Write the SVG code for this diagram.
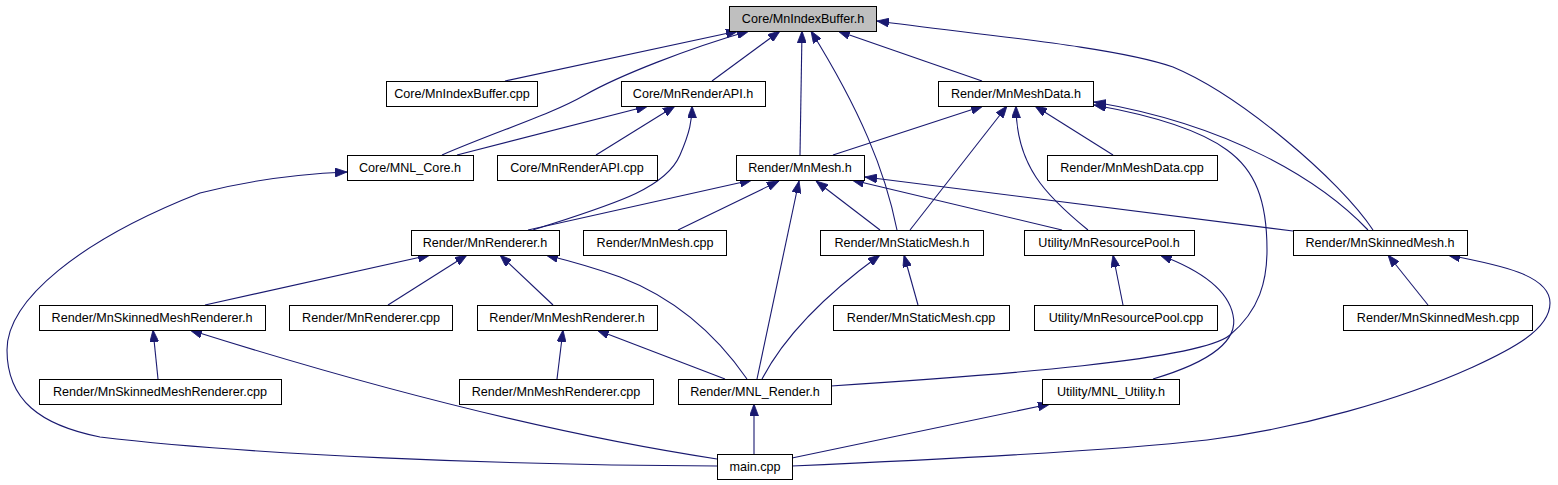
<svg xmlns="http://www.w3.org/2000/svg" width="1558" height="485" viewBox="0 0 1558 485">
<style>
.n rect{fill:#fff;stroke:#000;stroke-width:1}
.n.root rect{fill:#bfbfbf}
.n text{font-family:"Liberation Sans",Arial,sans-serif;font-size:12.6px;fill:#000;text-anchor:middle}
.e path{fill:none;stroke:#191970;stroke-width:1.1;marker-end:url(#ah)}
</style>
<defs>
<marker id="ah" markerWidth="12" markerHeight="9" refX="12" refY="4.5" orient="auto" markerUnits="userSpaceOnUse"><path d="M0,0 L12,4.5 L0,9 z" fill="#191970" stroke="#191970" stroke-width="0.8"/></marker>
</defs>
<rect width="1558" height="485" fill="#fff"/>
<g id="edges" class="e">
<path d="M505,81 L738,31"/>
<path d="M442,155 C500,130 550,115 585,95 C620,75 690,48 749,31"/>
<path d="M712,81 L780,31"/>
<path d="M800,155 L802,31"/>
<path d="M897,230 C885,170 860,110 811,31"/>
<path d="M982,81 L838,31"/>
<path d="M1373,230 C1340,180 1240,95 1173,67 C1113,46 970,34 877,21"/>
<path d="M457,155 L648,106"/>
<path d="M596,155 L675,106"/>
<path d="M533,230 C610,205 665,190 680,155 C690,132 692,120 692,106"/>
<path d="M833,155 L983,106"/>
<path d="M910,230 L1007,106"/>
<path d="M1088,230 C1045,195 1016,165 1016,106"/>
<path d="M1113,155 L1035,106"/>
<path d="M831,386 C1000,375 1200,360 1230,335 C1260,310 1267,280 1267,250 C1267,200 1255,170 1227,150 C1200,130 1150,115 1094,105"/>
<path d="M1368,230 C1320,180 1230,125 1094,102"/>
<path d="M528,230 L752,180"/>
<path d="M678,230 L779,181"/>
<path d="M757,379 L799,181"/>
<path d="M880,230 L816,181"/>
<path d="M1062,230 L852,180"/>
<path d="M1293,231 L865,177"/>
<path d="M205,305 L430,255"/>
<path d="M388,305 L467,255"/>
<path d="M553,305 L500,255"/>
<path d="M747,379 C720,340 680,300 620,277 C595,268 570,261 546,255"/>
<path d="M762,379 C785,335 825,295 880,255"/>
<path d="M918,305 L904,255"/>
<path d="M1123,305 L1113,255"/>
<path d="M1153,379 C1200,365 1240,345 1233,315 C1228,290 1200,270 1160,255"/>
<path d="M1428,305 L1388,255"/>
<path d="M792,466 C930,460 1100,452 1207,440 C1300,428 1400,400 1473,367 C1510,350 1550,330 1550,303 C1550,275 1500,265 1448,255"/>
<path d="M158,379 L153,330"/>
<path d="M717,459 C560,435 380,390 190,330"/>
<path d="M557,379 L563,330"/>
<path d="M725,379 L597,330"/>
<path d="M754,454 L754,404"/>
<path d="M792,458 L1050,404"/>
<path d="M717,466 C500,465 250,455 100,437 C40,425 7,400 7,350 C7,300 80,240 200,193 C250,180 300,174 347,172"/>
</g>
<g id="n1" class="n root"><rect x="729.5" y="6.5" width="147" height="25"/><text x="803" y="22.5">Core/MnIndexBuffer.h</text></g>
<g id="n2" class="n"><rect x="386.5" y="81.5" width="151" height="25"/><text x="462" y="97.5">Core/MnIndexBuffer.cpp</text></g>
<g id="n3" class="n"><rect x="621.5" y="81.5" width="144" height="25"/><text x="693" y="97.5">Core/MnRenderAPI.h</text></g>
<g id="n4" class="n"><rect x="938.5" y="81.5" width="155" height="25"/><text x="1016" y="97.5">Render/MnMeshData.h</text></g>
<g id="n5" class="n"><rect x="347.5" y="155.5" width="126" height="25"/><text x="410" y="171.5">Core/MNL_Core.h</text></g>
<g id="n6" class="n"><rect x="497.5" y="155.5" width="160" height="25"/><text x="577" y="171.5">Core/MnRenderAPI.cpp</text></g>
<g id="n7" class="n"><rect x="736.5" y="155.5" width="128" height="25"/><text x="800" y="171.5">Render/MnMesh.h</text></g>
<g id="n8" class="n"><rect x="1047.5" y="155.5" width="170" height="25"/><text x="1132" y="171.5">Render/MnMeshData.cpp</text></g>
<g id="n9" class="n"><rect x="411.5" y="230.5" width="148" height="25"/><text x="485" y="246.5">Render/MnRenderer.h</text></g>
<g id="n10" class="n"><rect x="583.5" y="230.5" width="143" height="25"/><text x="655" y="246.5">Render/MnMesh.cpp</text></g>
<g id="n11" class="n"><rect x="820.5" y="230.5" width="163" height="25"/><text x="902" y="246.5">Render/MnStaticMesh.h</text></g>
<g id="n12" class="n"><rect x="1024.5" y="230.5" width="170" height="25"/><text x="1109" y="246.5">Utility/MnResourcePool.h</text></g>
<g id="n13" class="n"><rect x="1293.5" y="230.5" width="174" height="25"/><text x="1380" y="246.5">Render/MnSkinnedMesh.h</text></g>
<g id="n14" class="n"><rect x="39.5" y="305.5" width="226" height="25"/><text x="152" y="321.5">Render/MnSkinnedMeshRenderer.h</text></g>
<g id="n15" class="n"><rect x="289.5" y="305.5" width="163" height="25"/><text x="371" y="321.5">Render/MnRenderer.cpp</text></g>
<g id="n16" class="n"><rect x="477.5" y="305.5" width="180" height="25"/><text x="567" y="321.5">Render/MnMeshRenderer.h</text></g>
<g id="n17" class="n"><rect x="833.5" y="305.5" width="176" height="25"/><text x="921" y="321.5">Render/MnStaticMesh.cpp</text></g>
<g id="n18" class="n"><rect x="1034.5" y="305.5" width="183" height="25"/><text x="1126" y="321.5">Utility/MnResourcePool.cpp</text></g>
<g id="n19" class="n"><rect x="1343.5" y="305.5" width="189" height="25"/><text x="1438" y="321.5">Render/MnSkinnedMesh.cpp</text></g>
<g id="n20" class="n"><rect x="39.5" y="379.5" width="242" height="25"/><text x="160" y="395.5">Render/MnSkinnedMeshRenderer.cpp</text></g>
<g id="n21" class="n"><rect x="459.5" y="379.5" width="194" height="25"/><text x="556" y="395.5">Render/MnMeshRenderer.cpp</text></g>
<g id="n22" class="n"><rect x="678.5" y="379.5" width="153" height="25"/><text x="755" y="395.5">Render/MNL_Render.h</text></g>
<g id="n23" class="n"><rect x="1042.5" y="379.5" width="137" height="25"/><text x="1111" y="395.5">Utility/MNL_Utility.h</text></g>
<g id="n24" class="n"><rect x="717.5" y="454.5" width="75" height="25"/><text x="755" y="470.5">main.cpp</text></g>
</svg>
